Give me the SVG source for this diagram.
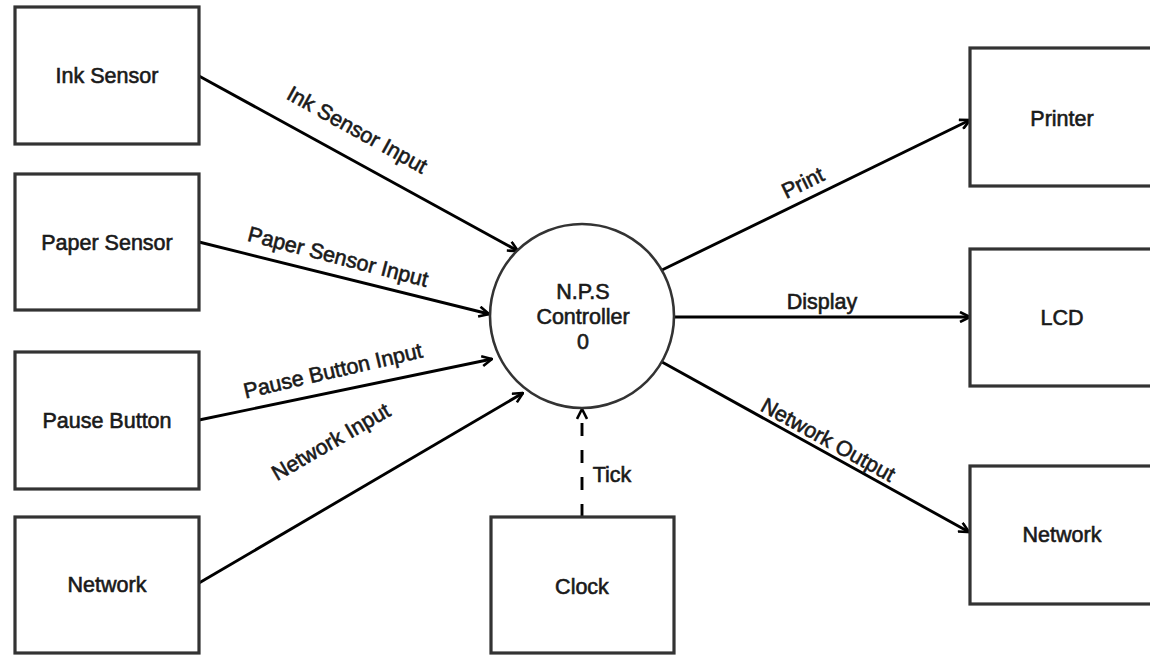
<svg xmlns="http://www.w3.org/2000/svg" width="1150" height="655" viewBox="0 0 1150 655">
<style>
.box{fill:#fff;stroke:#333;stroke-width:3.2}
.circ{fill:#fff;stroke:#333;stroke-width:2.6}
.lbl{font-family:"Liberation Sans",Arial,sans-serif;font-size:21.5px;fill:#1a1a1a;stroke:#1a1a1a;stroke-width:0.6;text-anchor:middle;dominant-baseline:central}
.edge{fill:none;stroke:#000;stroke-width:2.9}
.dash{stroke-dasharray:13 14}
</style>
<defs>
<marker id="arr" viewBox="0 0 12 12" refX="11" refY="6" markerWidth="12" markerHeight="12" orient="auto" markerUnits="userSpaceOnUse">
<path d="M1,1 L11,6 L1,11" fill="none" stroke="#000" stroke-width="2.6"/>
</marker>
</defs>
<rect width="1150" height="655" fill="#fff"/>
<g id="connectors">
<line class="edge" x1="199" y1="76" x2="518" y2="251" marker-end="url(#arr)"/>
<line class="edge" x1="199" y1="242" x2="489" y2="314" marker-end="url(#arr)"/>
<line class="edge" x1="199" y1="420" x2="492" y2="359" marker-end="url(#arr)"/>
<line class="edge" x1="199" y1="583" x2="523" y2="393" marker-end="url(#arr)"/>
<line class="edge" x1="662" y1="270" x2="970" y2="120" marker-end="url(#arr)"/>
<line class="edge" x1="674" y1="317" x2="970" y2="317" marker-end="url(#arr)"/>
<line class="edge" x1="662" y1="362" x2="969" y2="532" marker-end="url(#arr)"/>
<line class="edge dash" x1="582" y1="517" x2="582" y2="409" marker-end="url(#arr)"/>
<text class="lbl" transform="translate(357,130) rotate(29)">Ink Sensor Input</text>
<text class="lbl" transform="translate(338,257) rotate(14.5)">Paper Sensor Input</text>
<text class="lbl" transform="translate(333,371) rotate(-13)">Pause Button Input</text>
<text class="lbl" transform="translate(331,442) rotate(-30)">Network Input</text>
<text class="lbl" transform="translate(803,183) rotate(-26)">Print</text>
<text class="lbl" x="822" y="302">Display</text>
<text class="lbl" transform="translate(828,440) rotate(29)">Network Output</text>
<text class="lbl" x="612" y="475">Tick</text>
</g>
<g id="ink-sensor"><rect class="box" x="15" y="7" width="184" height="137"/><text class="lbl" x="107" y="76">Ink Sensor</text></g>
<g id="paper-sensor"><rect class="box" x="15" y="174" width="184" height="136"/><text class="lbl" x="107" y="243">Paper Sensor</text></g>
<g id="pause-button"><rect class="box" x="15" y="352" width="184" height="137"/><text class="lbl" x="107" y="421">Pause Button</text></g>
<g id="network-in"><rect class="box" x="15" y="517" width="184" height="136"/><text class="lbl" x="107" y="585">Network</text></g>
<g id="controller"><circle class="circ" cx="582" cy="316" r="92"/>
<text class="lbl" x="583" y="292">N.P.S</text><text class="lbl" x="583" y="317">Controller</text><text class="lbl" x="583" y="342">0</text></g>
<g id="clock"><rect class="box" x="491" y="517" width="183" height="136"/><text class="lbl" x="582" y="587">Clock</text></g>
<g id="printer"><rect class="box" x="970" y="48" width="184" height="138"/><text class="lbl" x="1062" y="119">Printer</text></g>
<g id="lcd"><rect class="box" x="970" y="249" width="184" height="137"/><text class="lbl" x="1062" y="318">LCD</text></g>
<g id="network-out"><rect class="box" x="970" y="466" width="184" height="138"/><text class="lbl" x="1062" y="535">Network</text></g>
</svg>
